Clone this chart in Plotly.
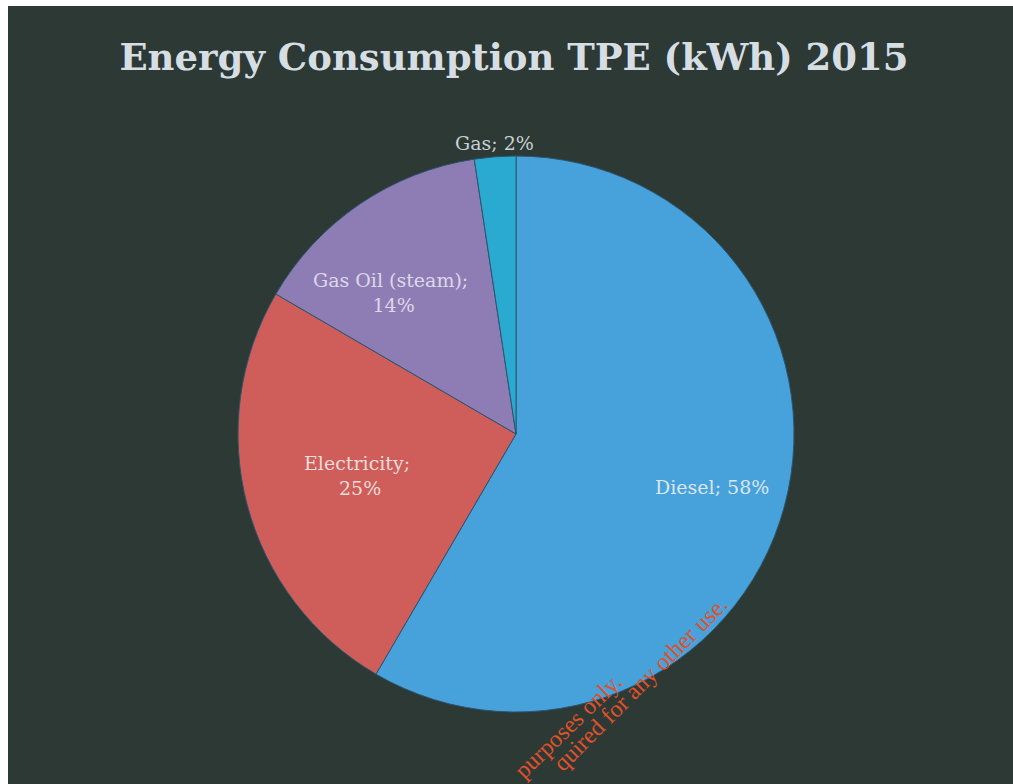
import math
import plotly.graph_objects as go

# Data (shares of total energy consumption, %)
categories = ["Diesel", "Electricity", "Gas Oil (steam)", "Gas"]
values = [58.4, 25.0, 14.2, 2.4]
label_prefix = ["Diesel;", "Electricity;<br>", "Gas Oil (steam);<br>", "Gas;"]

# Styling
colors = ["#47a2db", "#cf5d59", "#8e7db5", "#2aaad0"]
label_radius = [0.73, 0.59, 0.68, 1.05]    # fraction of pie radius for label centre
label_angle_shift = [0, 0, -7.5, 0]        # degrees, nudge from slice mid-angle
label_color = ["#dbe6ee", "#ecdcda", "#ddd8e8", "#c9cfd2"]

W, H = 1013, 784
cx, cy, R = 516, 434, 278

fig = go.Figure()
fig.add_trace(go.Pie(
    labels=categories,
    values=values,
    sort=False,
    direction="clockwise",
    rotation=0,
    marker=dict(colors=colors, line=dict(color="#2b5670", width=1)),
    textinfo="none",
    showlegend=False,
    hoverinfo="label+percent",
    domain=dict(x=[(cx - R) / W, (cx + R) / W], y=[1 - (cy + R) / H, 1 - (cy - R) / H]),
))

# data labels placed at each slice's mid-angle
total = sum(values)
annotations = []
cum = 0.0
for cat, v, pre, rf, sh, col in zip(categories, values, label_prefix, label_radius,
                                     label_angle_shift, label_color):
    mid = (cum + v / 2) / total * 2 * math.pi + math.radians(sh)
    cum += v
    px = cx + rf * R * math.sin(mid)
    py = cy - rf * R * math.cos(mid)
    annotations.append(dict(
        text=f"{pre} {round(v / total * 100)}%", x=px / W, y=1 - py / H,
        xref="paper", yref="paper", xanchor="center", yanchor="middle",
        showarrow=False, align="center",
        font=dict(family="DejaVu Serif", size=19, color=col)))

annotations += [
    dict(text="purposes only.", x=568 / W, y=1 - 726 / H, xref="paper", yref="paper",
         xanchor="center", yanchor="middle", showarrow=False, textangle=-44,
         font=dict(family="Liberation Serif", size=24, color="#e0512b")),
    dict(text="quired for any other use.", x=640 / W, y=1 - 684 / H, xref="paper", yref="paper",
         xanchor="center", yanchor="middle", showarrow=False, textangle=-45,
         font=dict(family="Liberation Serif", size=24, color="#e0512b")),
]

fig.update_layout(
    width=W, height=H,
    margin=dict(l=0, r=0, t=0, b=0),
    paper_bgcolor="#2c3935",
    plot_bgcolor="#2c3935",
    title=dict(
        text="<b>Energy Consumption TPE (kWh) 2015</b>",
        x=514 / W, y=1 - 57 / H, xanchor="center", yanchor="middle",
        font=dict(family="DejaVu Serif", size=37, color="#d6dee3"),
    ),
    shapes=[
        dict(type="rect", xref="paper", yref="paper", x0=0, x1=8 / W, y0=0, y1=1,
             fillcolor="white", line=dict(width=0), layer="above"),
        dict(type="rect", xref="paper", yref="paper", x0=0, x1=1, y0=1 - 6 / H, y1=1,
             fillcolor="white", line=dict(width=0), layer="above"),
    ],
    annotations=annotations,
)

fig.write_html("out.html")
